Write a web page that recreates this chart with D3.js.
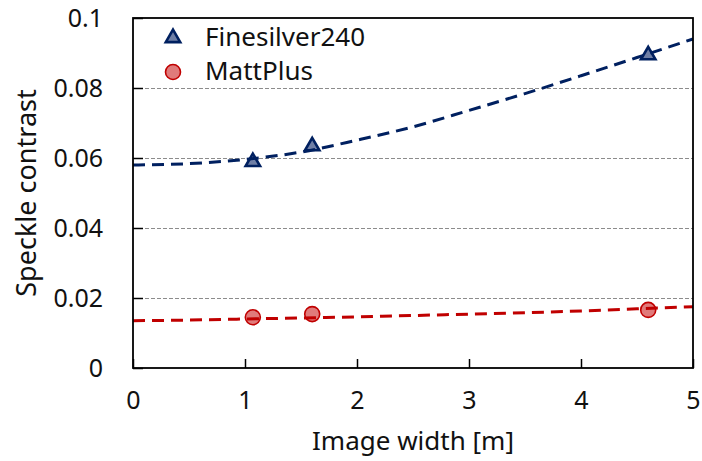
<!DOCTYPE html>
<html lang="en">
  <head>
    <meta charset="UTF-8" />
    <title>Speckle contrast</title>
    <script src="https://cdn.jsdelivr.net/npm/d3@7/dist/d3.min.js"></script>
    <style>
      * {
        box-sizing: border-box;
        margin: 0;
        padding: 0;
      }
      body {
        background: #fff;
        width: 702px;
        height: 461px;
        overflow: hidden;
      }
      text {
        font-family: "Noto Sans", "Open Sans", sans-serif;
        fill: #111;
      }
    </style>
  </head>
  <body>
    <svg id="chart" width="702" height="461"></svg>
    <script>
      // measured points
      const widths = [1.07, 1.6, 4.6];
      const fineSilver = [0.0589, 0.0634, 0.0894];
      const mattPlus = [0.0145, 0.0154, 0.0166];

      // trend lines
      const trendX = [0, 0.5, 1, 1.5, 2, 2.5, 3, 3.5, 4, 4.5, 5];
      const trendFine = [0.058, 0.0584, 0.0596, 0.0617, 0.0651, 0.0689, 0.0736, 0.0784, 0.0835, 0.0887, 0.094];
      const trendMatt = [0.0135, 0.0137, 0.014, 0.0143, 0.0146, 0.015, 0.0154, 0.0158, 0.0163, 0.0169, 0.0175];

      const xTicks = [0, 1, 2, 3, 4, 5];
      const yTicks = [0, 0.02, 0.04, 0.06, 0.08, 0.1];
      const yTickLabels = ["0", "0.02", "0.04", "0.06", "0.08", "0.1"];

      const series = [
        { name: "Finesilver240", values: fineSilver, trend: trendFine, color: "#002060", fill: "#6f7fa6", shape: "tri" },
        { name: "MattPlus", values: mattPlus, trend: trendMatt, color: "#c00000", fill: "#e07b7b", shape: "circ" },
      ];

      const plotL = 133, plotR = 693, plotT = 18, plotB = 368;
      const x = d3.scaleLinear().domain([0, 5]).range([plotL, plotR]);
      const y = d3.scaleLinear().domain([0, 0.1]).range([plotB, plotT]);

      const svg = d3.select("#chart");

      // gridlines
      svg.append("g")
        .selectAll("line")
        .data(yTicks.filter((v) => v > 0 && v < 0.1))
        .enter()
        .append("line")
        .attr("x1", plotL)
        .attr("x2", plotR)
        .attr("y1", (d) => Math.round(y(d)) + 0.5)
        .attr("y2", (d) => Math.round(y(d)) + 0.5)
        .attr("stroke", "#8c8c8c")
        .attr("stroke-width", 1)
        .attr("stroke-dasharray", "4,2");

      // axes, ticks pointing inward
      const yAxis = d3.axisLeft(y).tickValues(yTicks).tickSize(-10).tickFormat((d, i) => yTickLabels[i]).tickPadding(30);
      const xAxis = d3.axisBottom(x).tickValues(xTicks).tickSize(-9).tickFormat(d3.format("d")).tickPadding(24);

      const gy = svg.append("g").attr("transform", `translate(${plotL},0)`).call(yAxis);
      const gx = svg.append("g").attr("transform", `translate(0,${plotB})`).call(xAxis);

      [gx, gy].forEach((g) => {
        g.select(".domain").remove();
        g.selectAll(".tick line").attr("stroke", "#000").attr("stroke-width", 1.5);
        g.selectAll(".tick text").attr("font-size", 25).attr("fill", "#111");
      });
      gy.selectAll(".tick text").attr("dy", "0.35em");
      gx.selectAll(".tick text").attr("dy", "0.68em");

      // markers
      const tri = d3.symbol().type(d3.symbolTriangle).size(90);
      series.forEach((s) => {
        const g = svg.append("g");
        s.values.forEach((v, i) => {
          if (s.shape === "tri") {
            g.append("path")
              .attr("d", tri())
              .attr("transform", `translate(${x(widths[i])},${y(v)})`)
              .attr("fill", s.fill)
              .attr("stroke", s.color)
              .attr("stroke-width", 2.6);
          } else {
            g.append("circle")
              .attr("cx", x(widths[i]))
              .attr("cy", y(v))
              .attr("r", 7.5)
              .attr("fill", s.fill)
              .attr("stroke", s.color)
              .attr("stroke-width", 1.6);
          }
        });
      });

      // dashed trend lines
      const line = d3.line()
        .x((d) => x(d[0]))
        .y((d) => y(d[1]))
        .curve(d3.curveMonotoneX);
      series.forEach((s) => {
        svg.append("path")
          .datum(trendX.map((t, i) => [t, s.trend[i]]))
          .attr("d", line)
          .attr("fill", "none")
          .attr("stroke", s.color)
          .attr("stroke-width", 3)
          .attr("stroke-dasharray", "12,7");
      });

      // plot frame
      svg.append("rect")
        .attr("x", plotL)
        .attr("y", plotT)
        .attr("width", plotR - plotL)
        .attr("height", plotB - plotT)
        .attr("fill", "none")
        .attr("stroke", "#000")
        .attr("stroke-width", 1.8);

      // legend
      const legend = svg.append("g");
      series.forEach((s, i) => {
        const ly = 38 + i * 34;
        if (s.shape === "tri") {
          legend.append("path")
            .attr("d", tri())
            .attr("transform", `translate(173,${ly})`)
            .attr("fill", s.fill)
            .attr("stroke", s.color)
            .attr("stroke-width", 2.6);
        } else {
          legend.append("circle")
            .attr("cx", 173)
            .attr("cy", ly)
            .attr("r", 7.5)
            .attr("fill", s.fill)
            .attr("stroke", s.color)
            .attr("stroke-width", 1.6);
        }
        legend.append("text")
          .attr("x", 205)
          .attr("y", ly + 8)
          .attr("font-size", 26)
          .text(s.name);
      });

      // axis titles
      svg.append("text")
        .attr("x", (plotL + plotR) / 2)
        .attr("y", 450)
        .attr("text-anchor", "middle")
        .attr("font-size", 26)
        .text("Image width [m]");

      svg.append("text")
        .attr("transform", `translate(36,${(plotT + plotB) / 2}) rotate(-90)`)
        .attr("text-anchor", "middle")
        .attr("font-size", 27)
        .text("Speckle contrast");
    </script>
  </body>
</html>
